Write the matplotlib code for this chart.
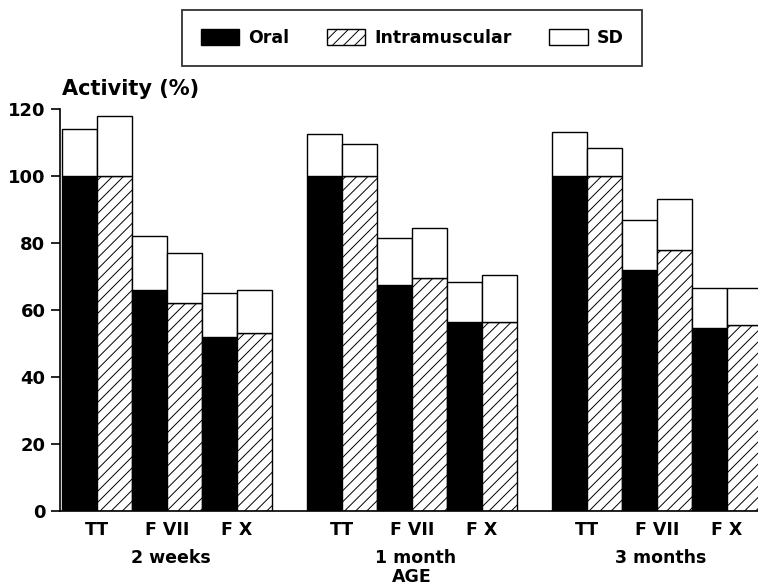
import matplotlib
matplotlib.use("Agg")
from matplotlib import pyplot as plt
from matplotlib.patches import Patch

ages = ['2 weeks', '1 month', '3 months']
factors = ['TT', 'F VII', 'F X']

# mean activity (%) and SD per age group, factor order TT, F VII, F X
oral_mean = [[100, 66, 52], [100, 67.5, 56.5], [100, 72, 54.5]]
oral_sd = [[14, 16, 13], [12.5, 14, 12], [13, 15, 12]]
im_mean = [[100, 62, 53], [100, 69.5, 56.5], [100, 78, 55.5]]
im_sd = [[18, 15, 13], [9.5, 15, 14], [8.5, 15, 11]]

plt.rcParams['font.family'] = 'DejaVu Sans'
plt.rcParams['font.weight'] = 'bold'
plt.rcParams['hatch.linewidth'] = 0.7

W, H = 758, 586
fig = plt.figure(figsize=(W / 100, H / 100), dpi=100)
ax = fig.add_axes([60 / W, (H - 511) / H, 698 / W, 402 / H])

lw = 1.0
ticks = []
ticklabels = []
for g in range(len(ages)):
    for f in range(len(factors)):
        x0 = 7 * g + 2 * f
        ax.bar(x0 + 0.5, oral_mean[g][f], width=1, color='black',
               edgecolor='black', linewidth=lw)
        ax.bar(x0 + 0.5, oral_sd[g][f], bottom=oral_mean[g][f], width=1,
               color='white', edgecolor='black', linewidth=lw)
        ax.bar(x0 + 1.5, im_mean[g][f], width=1, color='white',
               edgecolor='black', hatch='///', linewidth=lw)
        ax.bar(x0 + 1.5, im_sd[g][f], bottom=im_mean[g][f], width=1,
               color='white', edgecolor='black', linewidth=lw)
        ticks.append(x0 + 1.0)
        ticklabels.append(factors[f])
    ax.text(7 * g + 3.1, -0.117, ages[g], transform=ax.get_xaxis_transform(),
            ha='center', va='center', fontsize=12.5, fontweight='bold')

ax.text(7 * 1 + 3, -0.164, 'AGE', transform=ax.get_xaxis_transform(),
        ha='center', va='center', fontsize=12.5, fontweight='bold')

ax.set_xlim(-2 / 35, 696 / 35)
ax.set_ylim(0, 120)
ax.set_yticks(range(0, 121, 20))
ax.set_xticks(ticks)
ax.set_xticklabels(ticklabels)

for s in ['top', 'right']:
    ax.spines[s].set_visible(False)
ax.spines['left'].set_linewidth(1.2)
ax.spines['bottom'].set_linewidth(1.2)
ax.tick_params(axis='y', length=6.5, width=1.2, pad=4, labelsize=13)
ax.tick_params(axis='x', length=0, pad=7, labelsize=12.5)
for lab in ax.get_xticklabels() + ax.get_yticklabels():
    lab.set_fontweight('bold')

fig.text(62 / W, 1 - 89 / H, 'Activity (%)', ha='left', va='center',
         fontsize=15, fontweight='bold')

handles = [Patch(facecolor='black', edgecolor='black', label='Oral'),
           Patch(facecolor='white', edgecolor='black', hatch='///',
                 label='Intramuscular'),
           Patch(facecolor='white', edgecolor='black', label='SD')]
leg = fig.legend(handles=handles, loc='upper center',
                 bbox_to_anchor=(412 / W, 1 - 10 / H), ncol=3, fontsize=12.5,
                 frameon=True, fancybox=False, borderpad=1.1,
                 handlelength=2.2, handleheight=1.05, handletextpad=0.5,
                 columnspacing=2.2, borderaxespad=0)
leg.get_frame().set_edgecolor('black')
leg.get_frame().set_linewidth(1.3)
for t in leg.get_texts():
    t.set_fontweight('bold')

plt.savefig('out.png', dpi=100)
